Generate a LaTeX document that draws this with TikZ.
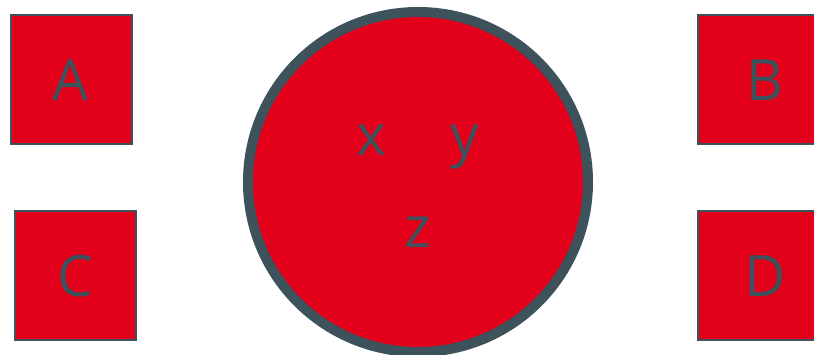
\documentclass[tikz,border=0pt]{standalone}
\usepackage{fontspec}
\setmainfont{Open Sans}
\usetikzlibrary{positioning}
\definecolor{boxred}{HTML}{E2001A}
\definecolor{slate}{HTML}{3E525C}

\begin{document}
\begin{tikzpicture}[
    x=1pt, y=-1pt,
    every node/.style={font=\fontsize{57}{60}\selectfont, text=slate, inner sep=0pt},
    box/.style={draw=slate, line width=2pt, fill=boxred, minimum width=121pt, minimum height=129pt},
    ring/.style={circle, draw=slate, line width=10pt, fill=boxred, minimum size=340pt},
    letter/.style={anchor=base}
]
\clip (0,0) rectangle (814,355);

% Nodes
\node[box] (a) at (71,80) {A};
\node[box] (c) at (75,276) {C};
\node[box, minimum width=134pt] (b) at (765,80) {B};
\node[box, minimum width=134pt] (d) at (765,276) {D};

\node[ring] (pool) at (418,182) {};

% Labels inside the circle
\node[letter] (x) at (371,156) {x};
\node[letter] (y) at (465,156) {y};
\node[letter] (z) at (418,248) {z};

\end{tikzpicture}
\end{document}
